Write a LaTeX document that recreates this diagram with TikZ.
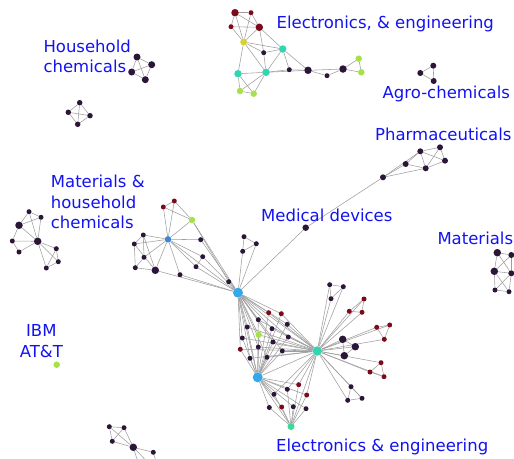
\documentclass[tikz,border=0pt]{standalone}
\usepackage{fontspec}
\setmainfont{DejaVu Sans}
\usetikzlibrary{backgrounds}
\definecolor{dk}{HTML}{2B1638}
\definecolor{drd}{HTML}{7B0A1A}
\definecolor{lm}{HTML}{A8E04C}
\definecolor{tl}{HTML}{33D4B2}
\definecolor{bl}{HTML}{33A9EC}
\definecolor{mbl}{HTML}{3C86D6}
\definecolor{yl}{HTML}{D4D236}
\definecolor{tg}{HTML}{3DD89A}
\definecolor{lbl}{HTML}{1212F2}
\definecolor{edgec}{HTML}{9E9E9E}
\begin{document}
\begin{tikzpicture}[x=1pt,y=-1pt,
  vd/.style={circle,inner sep=0pt,fill=dk,minimum size=5pt},
  vD/.style={vd,minimum size=7.5pt},
  vr/.style={vd,fill=drd},
  vR/.style={vD,fill=drd},
  vg/.style={vd,fill=lm,minimum size=6.5pt},
  vt/.style={vd,fill=tl,minimum size=7.5pt},
  ed/.style={draw=edgec,line width=0.55pt},
  lab/.style={text=lbl,font=\fontsize{16.5}{20}\selectfont,inner sep=0pt,anchor=base west}]
\useasboundingbox (0,0) rectangle (514,458);

% ---- labels
\node[lab] (tE) at (276.5,28) {Electronics, \& engineering};
\node[lab] (tH1) at (43.3,52) {Household};
\node[lab] (tH2) at (43.3,72) {chemicals};
\node[lab] (tA) at (382.5,98.3) {Agro-chemicals};
\node[lab] (tP) at (375,140.7) {Pharmaceuticals};
\node[lab] (tM) at (261,221.3) {Medical devices};
\node[lab] (tMa) at (437.3,244.3) {Materials};
\node[lab] (tMh1) at (50.7,187.3) {Materials \&};
\node[lab] (tMh2) at (50.7,208.3) {household};
\node[lab] (tMh3) at (50.7,228.3) {chemicals};
\node[lab,anchor=base] (tI1) at (41.3,336.7) {IBM};
\node[lab,anchor=base] (tI2) at (41.3,357.3) {AT\&T};
\node[lab] (tEe) at (276,451) {Electronics \& engineering};

% ---- top cluster
\node[vR] (e1) at (235,12.7) {};
\node[vr] (e2) at (251,12.7) {};
\node[vr] (e3) at (231,26.7) {};
\node[vR] (e4) at (259.3,27.3) {};
\node[vd,fill=yl,minimum size=7pt] (e5) at (243.7,42) {};
\node[vd] (e6) at (263.7,52.7) {};
\node[vt] (e7) at (282.7,49) {};
\node[vt] (e8) at (238,73.7) {};
\node[vt] (e9) at (266,72.3) {};
\node[vd] (e10) at (289.3,69.7) {};
\node[vD] (e11) at (308,70.3) {};
\node[vd] (e12) at (327,75.7) {};
\node[vD] (e13) at (343,69) {};
\node[vg] (e14) at (358.7,58.7) {};
\node[vg] (e15) at (361.3,72.3) {};
\node[vg] (e16) at (240,91) {};
\node[vg] (e17) at (253.7,93.7) {};

% household
\node[vD,minimum size=7pt] (h1) at (137,57) {};
\node[vD,minimum size=7pt] (h2) at (151.7,64.7) {};
\node[vD,minimum size=7pt] (h3) at (131.7,72) {};
\node[vD,minimum size=7pt] (h4) at (145.3,79.7) {};
% small cluster
\node[vd,minimum size=5.5pt] (q1) at (79.7,102.7) {};
\node[vd,minimum size=5.5pt] (q2) at (68.3,112.3) {};
\node[vd,minimum size=5.5pt] (q3) at (90,115.7) {};
\node[vd,minimum size=5.5pt] (q4) at (77.7,124.3) {};
% agro
\node[vd,minimum size=6pt] (g1) at (433.3,65.7) {};
\node[vd,minimum size=6pt] (g2) at (420.3,73) {};
\node[vd,minimum size=6pt] (g3) at (433.7,81) {};
% pharma
\node[vd,minimum size=6pt] (p1) at (420.3,151.3) {};
\node[vd,minimum size=6pt] (p2) at (440,147.3) {};
\node[vd,minimum size=6pt] (p3) at (405.7,164) {};
\node[vd,minimum size=6pt] (p4) at (445,160.7) {};
\node[vd,minimum size=6pt] (p5) at (425.7,168.3) {};
\node[vd,minimum size=6pt] (p6) at (383,177.3) {};
\node[vd,minimum size=6.5pt] (m0) at (305.7,227.7) {};
% left cluster
\node[vd] (l1) at (29,211.7) {};
\node[vd] (l2) at (41,217.3) {};
\node[vD] (l3) at (19,225.3) {};
\node[vd] (l4) at (12.3,241) {};
\node[vD] (l5) at (37.7,241.3) {};
\node[vd] (l6) at (19,252) {};
\node[vd] (l7) at (56.3,248.7) {};
\node[vd] (l8) at (58.3,261.7) {};
\node[vd] (l9) at (46.3,268) {};
% materials & household
\node[vr] (r1) at (163.3,207) {};
\node[vr] (r2) at (174.3,201) {};
\node[vg] (mg) at (192,220) {};
\node[vd,fill=mbl,minimum size=6.5pt] (mb) at (168,239.3) {};
\node[vd] (k1) at (143.3,235) {};
\node[vd] (k2) at (134.3,244) {};
\node[vd] (k3) at (200.7,239.7) {};
\node[vd] (k4) at (144,257.3) {};
\node[vd] (k5) at (202.7,256.7) {};
\node[vd] (k6) at (135.3,267.7) {};
\node[vD] (k7) at (155.3,270.3) {};
\node[vd] (k8) at (196,266.7) {};
\node[vd] (k9) at (180,274.7) {};
\node[vd] (k10) at (228.7,281.7) {};
\node[vd] (x1) at (244,236.7) {};
\node[vd] (x2) at (242.7,251.3) {};
\node[vd] (x3) at (256.3,243.7) {};
% centre
\node[vd,fill=bl,minimum size=10pt] (c1) at (238,292.7) {};
\node[vd,fill=bl,minimum size=10pt] (c2) at (257.7,377.3) {};
\node[vd,fill=tl,minimum size=9.5pt] (t1) at (317.3,351) {};
\node[vd,fill=tg,minimum size=7pt] (t2) at (291,426.5) {};
\node[vr] (m1) at (268.7,312.7) {};
\node[vr] (m2) at (281.3,313.7) {};
\node[vd] (m3) at (258.3,319.7) {};
\node[vd] (m4) at (247.3,327) {};
\node[vd] (m5) at (287.3,324.3) {};
\node[vg] (m6) at (258.7,334.7) {};
\node[vd] (m7) at (272,328.7) {};
\node[vd] (m8) at (242.3,338) {};
\node[vd] (m9) at (273,342) {};
\node[vd] (m10) at (288.3,337) {};
\node[vd] (m11) at (258.3,347) {};
\node[vr] (m12) at (240.3,349.3) {};
\node[vd] (m13) at (282.3,351) {};
\node[vd] (m14) at (250,358.3) {};
\node[vd] (m15) at (267,357.3) {};
\node[vr] (b1) at (298.7,384.7) {};
\node[vd] (b2) at (287.3,389.3) {};
\node[vd] (b3) at (274,394.3) {};
\node[vr] (b4) at (306.7,395) {};
\node[vd] (b5) at (269.3,407.5) {};
\node[vr] (b6) at (281.7,407) {};
\node[vd] (b7) at (293.3,406.7) {};
\node[vd] (b8) at (306,408.7) {};
% right of teal
\node[vd] (w1) at (329.7,284.7) {};
\node[vd] (w2) at (343.3,286.7) {};
\node[vd] (w3) at (331,298.7) {};
\node[vr] (w4) at (364,299) {};
\node[vr] (w5) at (349.3,311.3) {};
\node[vr] (w6) at (362,312.3) {};
\node[vr] (w7) at (389.7,325) {};
\node[vr] (w8) at (376.7,327.3) {};
\node[vr] (w9) at (384.3,339.3) {};
\node[vD] (w10) at (342.7,339.3) {};
\node[vD] (w11) at (355.3,346.7) {};
\node[vD] (w12) at (344.3,355.7) {};
\node[vr] (w13) at (381,362.7) {};
\node[vr] (w14) at (370,372) {};
\node[vr] (w15) at (384,376.7) {};
\node[vd] (w16) at (351,386.7) {};
\node[vd] (w17) at (347.7,400.3) {};
\node[vd] (w18) at (362,398.3) {};
% materials right
\node[vD] (z1) at (497.3,252.7) {};
\node[vd,minimum size=6pt] (z2) at (511.3,255) {};
\node[vD] (z3) at (494.3,271.3) {};
\node[vd,minimum size=6pt] (z4) at (511.3,273.3) {};
\node[vd] (z5) at (495,290) {};
\node[vd] (z6) at (509,291.7) {};
% IBM
\node[vg] (ib) at (56.7,364.7) {};
% bottom left
\node[vd] (y1) at (109.3,426.7) {};
\node[vd] (y2) at (124,427.7) {};
\node[vd] (y3) at (112.3,441.3) {};
\node[vD] (y4) at (133.3,447.3) {};
\node[vd] (y5) at (153.3,452.3) {};
\coordinate (yo1) at (142,475);
\coordinate (yo2) at (160,475);

\begin{scope}[on background layer]
\foreach \a/\b in {e1/e2,e1/e3,e1/e4,e2/e4,e3/e4,e1/e5,e3/e5,e4/e5,e2/e5,e4/e7,e4/e6,e5/e6,e5/e7,e6/e7,e6/e9,e5/e9,e5/e8,e8/e9,e9/e7,e8/e16,e8/e17,e9/e16,e9/e17,e16/e17,e7/e10,e9/e10,e9/e11,e10/e11,e7/e11,e11/e12,e11/e13,e12/e13,e13/e14,e13/e15,e14/e15,
h1/h2,h1/h3,h1/h4,h2/h3,h2/h4,h3/h4,q1/q2,q1/q3,q1/q4,q2/q3,q2/q4,q3/q4,g1/g2,g1/g3,g2/g3,
p1/p2,p1/p4,p2/p4,p1/p3,p1/p5,p2/p5,p4/p5,p3/p5,p3/p6,p6/p1,p6/p5,p6/m0,m0/c1,
l1/l2,l1/l3,l1/l5,l2/l5,l2/l3,l3/l4,l3/l5,l4/l5,l4/l6,l6/l5,l5/l7,l5/l8,l5/l9,l7/l8,l7/l9,l8/l9,
z1/z2,z1/z3,z1/z4,z2/z3,z2/z4,z3/z4,z3/z5,z3/z6,z4/z5,z4/z6,z5/z6,
y1/y2,y1/y3,y2/y3,y1/y4,y2/y4,y3/y4,y4/y5,y4/yo1,y4/yo2,y5/yo2,
r1/r2,r1/mb,r2/mb,r2/mg,r1/mg,mg/mb,mg/c1,mg/k10,mb/k1,mb/k2,mb/k3,mb/k4,mb/k7,mb/k9,mb/k5,mb/k8,mb/c1,k1/k2,k1/k4,k1/k7,k2/k7,k4/k6,k6/k7,k7/c1,k9/c1,k3/c1,k5/c1,k8/c1,k5/k8,k10/c1,k2/k6,
x1/x2,x1/x3,x2/x3,x2/c1,x3/c1,
c1/c2,c1/t1,c2/t1,c2/t2,t1/t2,
w1/w2,w2/w3,w1/w3,w4/w5,w4/w6,w5/w6,w7/w8,w7/w9,w8/w9,w10/w11,w10/w12,w11/w12,w13/w14,w13/w15,w14/w15,w16/w17,w16/w18,w17/w18}
  \draw[ed] (\a) -- (\b);
\foreach \i in {1,...,15} {
  \draw[ed] (c1) -- (m\i);
  \draw[ed] (c2) -- (m\i);
  \draw[ed] (t1) -- (m\i);
}
\foreach \i in {1,...,8} {
  \draw[ed] (c2) -- (b\i);
  \draw[ed] (t2) -- (b\i);
}
\foreach \i in {1,2,3,4} \draw[ed] (t1) -- (b\i);
\foreach \i in {1,...,18} \draw[ed] (t1) -- (w\i);
\end{scope}
\end{tikzpicture}
\end{document}
